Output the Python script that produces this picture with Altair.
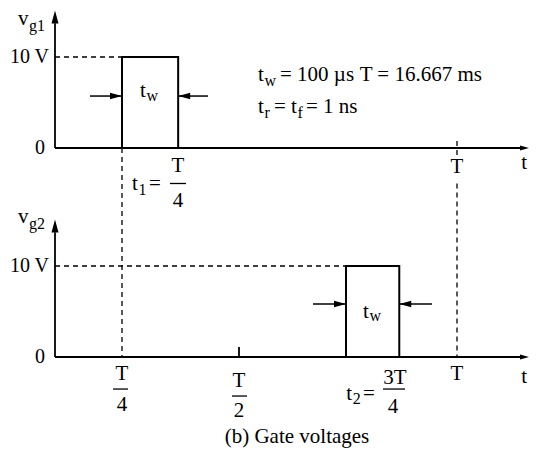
import altair as alt
import pandas as pd

# ---------------- values ----------------
PANELS = ["g1", "g2"]          # v_g1 (upper plot), v_g2 (lower plot)
PULSE_START = [0.25, 0.75]     # t1 = T/4, t2 = 3T/4   (time in units of T)
PULSE_WIDTH = 0.12             # t_w as drawn (schematic width, units of T)
V_HIGH = 10                    # gate pulse level, V
PERIOD = 1.0                   # T
HALF = 0.5                     # T/2 tick on the lower axis
T_AXIS_END = 1.3               # tip of the time-axis arrow
V_AXIS_END = 15.1              # tip of the voltage-axis arrow

# schematic (non-linear) time axis of the drawing: piecewise scale stops
X_STOPS = [0, 0.25, 0.5, 0.75, 1.0, 1.3]
X_RANGE = [47, 114, 231, 338, 449, 521]

# ---------------- layout ----------------
W, H = 521, 441
PX_PER_V = 9.1
Y_TOP = 140 / PX_PER_V
SHIFT = 209 / PX_PER_V            # vertical distance between the two plots
Y_BOTTOM = Y_TOP - H / PX_PER_V
FONT = "Liberation Serif"
ARROW = "M0,0L-1,-0.27L-1,0.27Z"

xs = alt.Scale(domain=X_STOPS, range=X_RANGE, nice=False, zero=False)
ys = alt.Scale(domain=[Y_BOTTOM, Y_TOP], nice=False, zero=False)
Y_EXPR = f"datum.v - (datum.panel == 'g2' ? {SHIFT} : 0)"
Y2_EXPR = f"datum.v2 - (datum.panel2 == 'g2' ? {SHIFT} : 0)"

# ---------------- line segments ----------------
rules = []
def seg(kind, panel, x, x2, v, v2, panel2=None):
    rules.append(dict(kind=kind, panel=panel, panel2=panel2 or panel, x=x, x2=x2, v=v, v2=v2))

for p in PANELS:
    seg("axis", p, 0, 0, 0, 13.7)                  # voltage axis
    seg("axis", p, 0, T_AXIS_END - 0.03, 0, 0)     # time axis
seg("axis", "g2", HALF, HALF, 0, 1.1)             # T/2 tick

# t_w dimension arrows (shafts)
seg("thin", "g1", 0.1306, PULSE_START[0], 5.71, 5.71)
seg("thin", "g1", PULSE_START[0] + PULSE_WIDTH, 0.4338, 5.71, 5.71)
seg("thin", "g2", 0.6729, PULSE_START[1], 5.82, 5.82)
seg("thin", "g2", PULSE_START[1] + PULSE_WIDTH, 0.9437, 5.82, 5.82)

# fraction bars
seg("bar", "g1", 0.3526, 0.3868, -3.9, -3.9)
seg("bar", "g2", 0.2164, 0.2628, -3.52, -3.52)
seg("bar", "g2", 0.485, 0.5187, -4.29, -4.29)
seg("bar", "g2", 0.8333, 0.8829, -3.52, -3.52)

# dashed guides
seg("dash", "g1", 0, PULSE_START[0], V_HIGH, V_HIGH)
seg("dash", "g2", 0, PULSE_START[1], V_HIGH, V_HIGH)
seg("dash", "g1", PULSE_START[0], PULSE_START[0], 0, 0, panel2="g2")
seg("dash", "g1", PERIOD, PERIOD, 0.77, -1.2)
seg("dash", "g1", PERIOD, PERIOD, -3.9, 0, panel2="g2")
rules_df = pd.DataFrame(rules)

# ---------------- pulses ----------------
pulse_rows = []
for p, s in zip(PANELS, PULSE_START):
    for i, (x, v) in enumerate([(s, 0), (s, V_HIGH), (s + PULSE_WIDTH, V_HIGH), (s + PULSE_WIDTH, 0)]):
        pulse_rows.append(dict(panel=p, order=i, x=x, v=v))
pulse_df = pd.DataFrame(pulse_rows)

# ---------------- arrow heads ----------------
heads_df = pd.DataFrame([
    dict(panel="g1", x=0, v=V_AXIS_END, angle=270, size=676),
    dict(panel="g2", x=0, v=V_AXIS_END, angle=270, size=676),
    dict(panel="g1", x=T_AXIS_END, v=0, angle=0, size=324),
    dict(panel="g2", x=T_AXIS_END, v=0, angle=0, size=324),
    dict(panel="g1", x=PULSE_START[0], v=5.71, angle=0, size=576),
    dict(panel="g1", x=PULSE_START[0] + PULSE_WIDTH, v=5.71, angle=180, size=576),
    dict(panel="g2", x=PULSE_START[1], v=5.82, angle=0, size=576),
    dict(panel="g2", x=PULSE_START[1] + PULSE_WIDTH, v=5.82, angle=180, size=576),
])

# ---------------- texts ----------------
M, S = 21, 16
texts = [
    # left aligned
    ("left", "g1", -0.138, 14.18, "v", M), ("left", "g1", -0.097, 13.41, "g1", S),
    ("left", "g2", -0.138, 15.38, "v", M), ("left", "g2", -0.097, 14.6, "g2", S),
    ("left", "g1", 0.2885, 6.26, "t", M), ("left", "g1", 0.3024, 5.71, "w", S),
    ("left", "g2", 0.7883, 4.95, "t", M), ("left", "g2", 0.8029, 4.51, "w", S),
    ("left", "g1", 0.5444, 8.02, "t", M), ("left", "g1", 0.5596, 7.36, "w", S),
    ("left", "g1", 0.5958, 8.02, "= 100 µs", M), ("left", "g1", 0.7808, 8.02, "T = 16.667 ms", M),
    ("left", "g1", 0.5444, 4.51, "t", M), ("left", "g1", 0.5596, 3.85, "r", S),
    ("left", "g1", 0.5818, 4.51, "=", M), ("left", "g1", 0.6215, 4.51, "t", M),
    ("left", "g1", 0.6366, 3.85, "f", S), ("left", "g1", 0.6565, 4.51, "= 1 ns", M),
    ("left", "g1", 0.2714, -3.96, "t", M), ("left", "g1", 0.2853, -4.62, "1", S),
    ("left", "g1", 0.3077, -3.96, "=", M),
    ("left", "g2", 0.7505, -4.07, "t", M), ("left", "g2", 0.7651, -4.62, "2", S),
    ("left", "g2", 0.7885, -4.07, "=", M),
    # centered
    ("center", "g1", 0.3697, -1.98, "T", M), ("center", "g1", 0.3697, -5.82, "4", M),
    ("center", "g1", PERIOD, -2.09, "T", M), ("center", "g1", 1.28, -1.65, "t", M),
    ("center", "g2", 0.25, -1.87, "T", M), ("center", "g2", 0.25, -5.27, "4", M),
    ("center", "g2", HALF, -2.64, "T", M), ("center", "g2", HALF, -5.93, "2", M),
    ("center", "g2", 0.8604, -2.31, "3T", M), ("center", "g2", 0.8559, -5.49, "4", M),
    ("center", "g2", PERIOD, -1.87, "T", M), ("center", "g2", 1.28, -2.2, "t", M),
    ("center", "g2", 0.6355, -8.79, "(b) Gate voltages", M),
    # right aligned
    ("right", "g1", -0.0224, V_HIGH, "10 V", 20), ("right", "g1", -0.0373, 0, "0", 20),
    ("right", "g2", -0.0224, V_HIGH, "10 V", 20), ("right", "g2", -0.0373, 0, "0", 20),
]
text_df = pd.DataFrame(texts, columns=["align", "panel", "x", "v", "label", "size"])

X = alt.X("x:Q", scale=xs, axis=None)
Y = alt.Y("y:Q", scale=ys, axis=None)

rb = alt.Chart(rules_df).transform_calculate(y=Y_EXPR, y2=Y2_EXPR)
def rule_layer(kind, **kw):
    return rb.transform_filter(f"datum.kind == '{kind}'").mark_rule(color="black", **kw).encode(
        x=X, x2="x2:Q", y=Y, y2="y2:Q")

layers = [
    rule_layer("dash", strokeWidth=1.3, strokeDash=[5, 4]),
    rule_layer("axis", strokeWidth=1.8),
    rule_layer("thin", strokeWidth=1.5),
    rule_layer("bar", strokeWidth=1.3),
    alt.Chart(pulse_df).transform_calculate(y=Y_EXPR).mark_line(
        color="black", strokeWidth=2, strokeJoin="miter").encode(
        x=X, y=Y, detail="panel:N", order="order:Q"),
    alt.Chart(heads_df).transform_calculate(y=Y_EXPR).mark_point(
        shape=ARROW, filled=True, color="black", opacity=1, strokeWidth=0).encode(
        x=X, y=Y, angle=alt.Angle("angle:Q", scale=None), size=alt.Size("size:Q", scale=None)),
]
for a in ["left", "center", "right"]:
    layers.append(
        alt.Chart(text_df).transform_filter(f"datum.align == '{a}'").transform_calculate(y=Y_EXPR)
        .mark_text(align=a, baseline="middle", font=FONT, color="black")
        .encode(x=X, y=Y, text="label:N", size=alt.Size("size:Q", scale=None))
    )

chart = alt.layer(*layers).properties(
    width=W, height=H, padding=0, autosize=alt.AutoSizeParams(type="none")
).configure_view(stroke=None)

chart.save("out.html", embed_options={"renderer": "svg", "actions": False})
